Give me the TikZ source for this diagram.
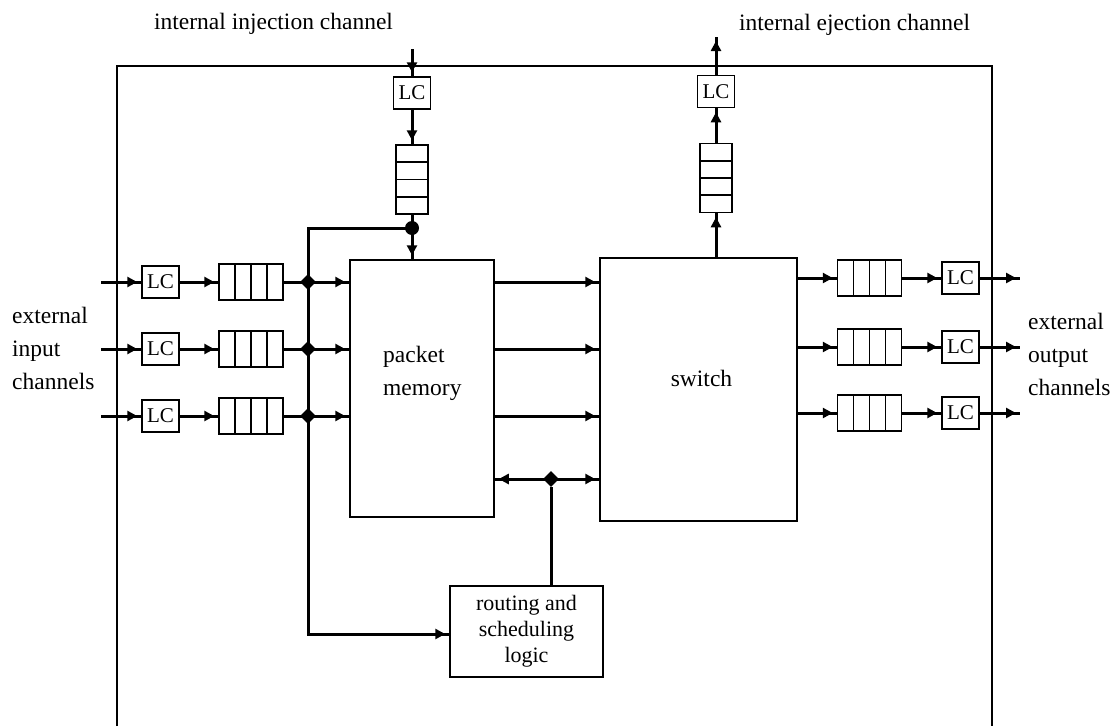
\documentclass[tikz,border=0pt]{standalone}
\usepackage{fontspec}
\setmainfont{Liberation Serif}
\usetikzlibrary{arrows.meta,decorations.markings,shapes.geometric,calc}

\begin{document}
\begin{tikzpicture}[x=1pt, y=-1pt,
    box/.style={draw, line width=1.5pt, inner sep=0pt},
    lc/.style={box, minimum width=37pt, minimum height=32pt, font=\fontsize{21}{24}\selectfont},
    queueh/.style={box, minimum width=64pt, minimum height=36pt,
      path picture={\foreach \f in {0.25,0.5,0.75}
        \draw[line width=1.8pt] ($(path picture bounding box.north west)!\f!(path picture bounding box.north east)$)
          -- ($(path picture bounding box.south west)!\f!(path picture bounding box.south east)$);}},
    queuev/.style={box, minimum width=32pt, minimum height=69pt,
      path picture={\foreach \f in {0.25,0.5,0.75}
        \draw[line width=1.8pt] ($(path picture bounding box.north west)!\f!(path picture bounding box.south west)$)
          -- ($(path picture bounding box.north east)!\f!(path picture bounding box.south east)$);}},
    bus/.style={line width=3pt},
    flow/.style={bus, decoration={markings,
      mark=at position -4pt with {\arrow{Triangle[length=10pt,width=10pt]}}}, postaction={decorate}},
    flowboth/.style={bus, decoration={markings,
      mark=at position 4pt with {\arrowreversed{Triangle[length=10pt,width=10pt]}},
      mark=at position -4pt with {\arrow{Triangle[length=10pt,width=10pt]}}}, postaction={decorate}},
    joint/.style={diamond, fill, inner sep=0pt, minimum size=16pt},
    lbl/.style={inner sep=0pt, align=left, font=\fontsize{23.5}{33}\selectfont}]
    \useasboundingbox (0,0) rectangle (1117,726);
    \draw[line width=1.5pt] (117,726) -- (117,66) -- (992,66) -- (992,726);

    \node[box, minimum width=144pt, minimum height=257pt] (mem) at (422,388.5) {};
    \node[lbl, anchor=west] (memtext) at (383,373) {packet\\memory};
    \node[box, minimum width=197pt, minimum height=263pt] (sw) at (698.5,389.5) {};
    \node[lbl] (swtext) at (701.5,378) {switch};
    \node[box, minimum width=153pt, minimum height=91pt, align=center,
      font=\fontsize{22}{26}\selectfont] (rt) at (526.5,631.5) {routing and\\scheduling\\logic};

    \foreach \i/\y in {1/282,2/349,3/416} {
      \coordinate (in\i) at (101,\y);
      \node[lc] (lci\i) at (160.5,\y) {LC};
      \node[queueh] (qi\i) at (251,\y) {};
      \draw[flow] (in\i) -- (lci\i);
      \draw[flow] (lci\i) -- (qi\i);
      \draw[flow] (qi\i) -- (mem.west |- qi\i);
      \draw[flow] (mem.east |- qi\i) -- (sw.west |- qi\i);
    }

    \coordinate (injtop) at (412,49);
    \node[lc] (lcinj) at (412,93) {LC};
    \node[queuev] (qinj) at (412,179.5) {};
    \node[joint, circle, minimum size=14pt] (jinj) at (412,228) {};
    \draw[flow] (injtop) -- (lcinj);
    \draw[flow] (lcinj) -- (qinj);
    \draw[flow] (qinj) -- (qinj |- mem.north);
    \node[lbl] (injtext) at (273.5,24) {internal injection channel};

    \coordinate (busbot) at (308,634);
    \draw[flow] (jinj.center) -| (busbot) -- (rt.west |- busbot);
    \foreach \i in {1,2,3}
      \node[joint] (ji\i) at (busbot |- qi\i) {};

    \node[joint] (jrt) at (551,479) {};
    \draw[flowboth] (mem.east |- jrt) -- (sw.west |- jrt);
    \draw[bus] (jrt) -- (jrt |- rt.north);

    \coordinate (ejtop) at (716,37);
    \node[lc] (lcej) at (716,91.5) {LC};
    \node[queuev] (qej) at (716,178) {};
    \draw[flow] (qej |- sw.north) -- (qej);
    \draw[flow] (qej) -- (lcej);
    \draw[flow] (lcej) -- (ejtop);
    \node[lbl] (ejtext) at (854.5,25) {internal ejection channel};

    \foreach \i/\y in {1/278,2/347,3/413} {
      \node[queueh] (qo\i) at (869.5,\y) {};
      \node[lc] (lco\i) at (960.5,\y) {LC};
      \coordinate (out\i) at (1020,\y);
      \draw[flow] (sw.east |- qo\i) -- (qo\i);
      \draw[flow] (qo\i) -- (lco\i);
      \draw[flow] (lco\i) -- (out\i);
    }

    \node[lbl, anchor=west] (intext) at (12,348) {external\\input\\channels};
    \node[lbl, anchor=west] (outtext) at (1028,354) {external\\output\\channels};
\end{tikzpicture}
\end{document}
